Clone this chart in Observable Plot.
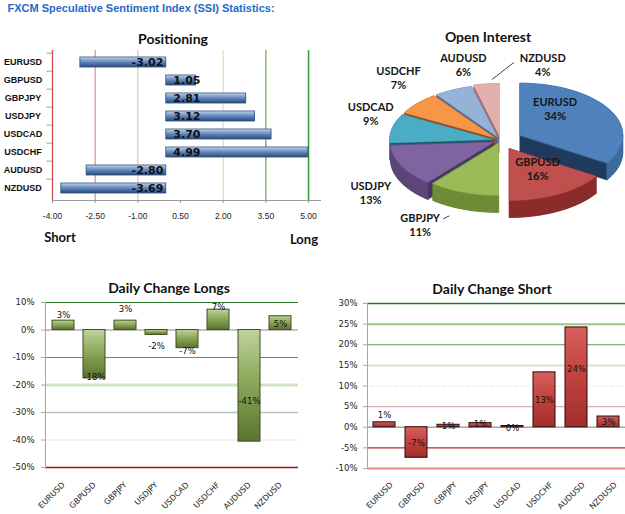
<!DOCTYPE html>
<html><head><meta charset="utf-8">
<script src="https://cdn.jsdelivr.net/npm/d3@7"></script>
<script src="https://cdn.jsdelivr.net/npm/@observablehq/plot@0.6"></script>
<style>
html,body{margin:0;padding:0;background:#fff;}
#root{position:relative;width:625px;height:514px;overflow:hidden;background:#fff;}
.panel{position:absolute;}
.panel svg{overflow:visible;}
.lbl{position:absolute;transform:translate(-50%,-50%);white-space:nowrap;}
</style></head><body><div id="root"></div>
<script>
// ---------- data ----------
const pairs = ["EURUSD","GBPUSD","GBPJPY","USDJPY","USDCAD","USDCHF","AUDUSD","NZDUSD"];
const positioning = [-3.02, 1.05, 2.81, 3.12, 3.70, 4.99, -2.80, -3.69];
const positioningTicks = [-4, -2.5, -1, 0.5, 2, 3.5, 5];
const openInterest = [34, 16, 11, 13, 9, 7, 6, 4];
const changeLongs = [3.4, -17.6, 3.4, -1.8, -6.6, 7.4, -40.6, 5.0];
const changeShort = [1.2, -7.4, 0.6, 1.0, 0.3, 13.3, 24.2, 2.6];
const longsTicks = [10, 0, -10, -20, -30, -40, -50];
const shortTicks = [30, 25, 20, 15, 10, 5, 0, -5, -10];

// ---------- layout / style ----------
const posGridStyle = [
  {stroke:"#D64B4B", w:1.3}, {stroke:"#E39393", w:1.3}, {stroke:"#DABDBD", w:1.1},
  null, {stroke:"#D9E6BA", w:1.3}, {stroke:"#78AE58", w:1.3}, {stroke:"#35983A", w:1.5}
];
const longsGridStyle = [
  {stroke:"#2B7A2B", w:1.2}, {stroke:"#B0B0B0", w:1.3}, {stroke:"#5E9B3E", w:1.1},
  {stroke:"#CFE3C0", w:3}, {stroke:"#B5C6B5", w:1.3}, {stroke:"#ECECEC", w:1.5}, {stroke:"#A01515", w:1.4}
];
const shortGridStyle = [
  {stroke:"#1E7B1E", w:1.3}, {stroke:"#9CC585", w:2}, {stroke:"#6A9E4C", w:1.1},
  {stroke:"#D3E7CB", w:2}, {stroke:"#D0D0D0", w:1, dash:"1,2"}, {stroke:"#D5B5B5", w:1.1},
  {stroke:"#A6A6A6", w:1.3}, {stroke:"#B8272A", w:1.3}, {stroke:"#E88A8A", w:2}
];
const longsLabelAt = [5.3, -17.3, 7.5, -5.8, -7.6, 8.4, -25.8, 2.1];
const shortLabelAt = [3.0, -4.0, 0.15, 0.7, -0.2, 6.6, 14.1, 1.2];
const pieColors = [
  {top:"#4F81BD", wall:"#3F6A9E", cut:"#1F3A5C"},
  {top:"#C0504D", wall:"#8A2C2A", cut:"#6E1F1E"},
  {top:"#9BBB59", wall:"#6E8B35", cut:"#566E28"},
  {top:"#8064A2", wall:"#5C4679", cut:"#47365F"},
  {top:"#4BACC6", wall:"#2F7C90", cut:"#1F5565"},
  {top:"#F79646", wall:"#B0601E", cut:"#8A4712"},
  {top:"#95B3D7", wall:"#6A86AA", cut:"#4F6687"},
  {top:"#E3AFAE", wall:"#B98584", cut:"#9C6B6A"}
];
const pieExplode = [22, 18, 6, 8, 8, 8, 8, 10];
const pieLabelPos = [[0.53,-0.62],[0.36,0.54],[-0.78,1.62],[-1.26,1.0],[-1.26,-0.52],[-0.99,-1.21],[-0.36,-1.46],[0.41,-1.46]];

const ns = "http://www.w3.org/2000/svg";
function addGradient(svg, id, stops) {
  let defs = svg.querySelector("defs");
  if (!defs) { defs = document.createElementNS(ns, "defs"); svg.insertBefore(defs, svg.firstChild); }
  const g = document.createElementNS(ns, "linearGradient");
  g.setAttribute("id", id); g.setAttribute("x1","0"); g.setAttribute("y1","0"); g.setAttribute("x2","0"); g.setAttribute("y2","1");
  for (const [o,c] of stops) { const s = document.createElementNS(ns,"stop"); s.setAttribute("offset", o); s.setAttribute("stop-color", c); g.appendChild(s); }
  defs.appendChild(g);
}
const root = document.getElementById("root");
function place(el, left, top) { const d = document.createElement("div"); d.className="panel"; d.style.left=left+"px"; d.style.top=top+"px"; d.appendChild(el); root.appendChild(d); }
function label(text, x, y, css) { const d = document.createElement("div"); d.className="lbl"; d.textContent=text; d.style.cssText = css; d.style.left=x+"px"; d.style.top=y+"px"; root.appendChild(d); }

// ---------- Positioning ----------
const posData = pairs.map((p,i)=>({pair:p, value:positioning[i]}));
const posPlot = Plot.plot({
  width: 320, height: 250, marginLeft: 52, marginRight: 0, marginTop: 50, marginBottom: 50,
  x: {domain: [-4, 5.42], axis: null, label: null},
  y: {domain: pairs, paddingInner: 0.42, paddingOuter: 0.21, axis: null, label: null},
  style: {fontFamily: "Liberation Sans, Arial, sans-serif", background: "transparent", color: "#222"},
  marks: [
    ...positioningTicks.map((t,i)=> posGridStyle[i] ? Plot.ruleX([t], {stroke: posGridStyle[i].stroke, strokeWidth: posGridStyle[i].w}) : null).filter(Boolean),
    Plot.ruleY(pairs, {y: d=>d, x1: -4.2, x2: -4, dy: -9.375, stroke: "#A0A0A0"}),
    Plot.frame({anchor: "bottom", stroke: "#9A9A9A"}),
    Plot.axisX(positioningTicks, {label: null, tickFormat: d=>d.toFixed(2), tickSize: 3, tickPadding: 9, fontSize: 8.5, stroke: "#9A9A9A", fill: "#222"}),
    Plot.axisY({label: null, tickSize: 0, tickPadding: 29.5, textAnchor: "middle", fontWeight: "bold", fontSize: 9, fill: "#111"}),
    Plot.barX(posData, {y: "pair", x1: 0, x2: "value", fill: "url(#gBlue)", stroke: "#2C4B77", strokeWidth: 0.8}),
    Plot.text(posData.filter(d=>d.value<0), {y: "pair", x: 0, text: d=>d.value.toFixed(2), textAnchor: "end", dx: -3, fontWeight: "bold", fontSize: 11, fontFamily: "DejaVu Sans", fill: "#111"}),
    Plot.text(posData.filter(d=>d.value>=0), {y: "pair", x: 0, text: d=>d.value.toFixed(2), textAnchor: "start", dx: 7, fontWeight: "bold", fontSize: 11, fontFamily: "DejaVu Sans", fill: "#111"})
  ]
});
addGradient(posPlot, "gBlue", [["0","#DDE7F3"],["0.18","#9AB6DC"],["0.55","#5C81B6"],["1","#2B4A77"]]);
place(posPlot, 0, 0);

// ---------- Open Interest (3D pie) ----------
const cx = 500, cy = 140, rx = 103, ry = 52, depth = 17;
const total = d3.sum(openInterest);
let acc = 0;
const slices = openInterest.map((v,i)=>{
  const a0 = acc/total*2*Math.PI; acc += v; const a1 = acc/total*2*Math.PI;
  const mid = (a0+a1)/2, e = pieExplode[i];
  const ox = e*Math.sin(mid), oy = -e*Math.cos(mid)*ry/rx;
  const px = a => cx + ox + rx*Math.sin(a), py = a => cy + oy - ry*Math.cos(a);
  const n = Math.max(4, Math.ceil((a1-a0)/(Math.PI/90)));
  const arc = d3.range(n+1).map(k=>a0+(a1-a0)*k/n);
  const top = [{x:cx+ox, y:cy+oy}, ...arc.map(a=>({x:px(a), y:py(a)}))];
  const hull = d3.polygonHull(top.flatMap(p=>[[p.x,p.y],[p.x,p.y+depth]])).map(([x,y])=>({x,y}));
  const w0 = Math.max(a0, Math.PI/2), w1 = Math.min(a1, 3*Math.PI/2);
  let wall = null;
  if (w1 > w0) {
    const m = Math.max(3, Math.ceil((w1-w0)/(Math.PI/90)));
    const wa = d3.range(m+1).map(k=>w0+(w1-w0)*k/m);
    wall = [...wa.map(a=>({x:px(a), y:py(a)})), ...wa.slice().reverse().map(a=>({x:px(a), y:py(a)+depth}))];
  }
  const key = cy + oy - 0.5*ry*Math.cos(mid);
  const outer = {x: px(mid), y: py(mid)};
  return {i, name: pairs[i], v, top, hull, wall, key, outer, mid};
});
const order = slices.slice().sort((a,b)=>a.key-b.key);
const pieMarks = [];
for (const s of order) {
  pieMarks.push(Plot.line(s.hull, {x:"x", y:"y", curve:"linear-closed", fill: pieColors[s.i].cut, stroke: pieColors[s.i].cut, strokeWidth: 0.5}));
  if (s.wall) pieMarks.push(Plot.line(s.wall, {x:"x", y:"y", curve:"linear-closed", fill: pieColors[s.i].wall, stroke: pieColors[s.i].wall, strokeWidth: 0.5}));
}
for (const s of order) {
  pieMarks.push(Plot.line(s.top, {x:"x", y:"y", curve:"linear-closed", fill: pieColors[s.i].top, stroke: pieColors[s.i].top, strokeWidth: 0.5}));
}
const pieLabels = slices.map(s=>({x: cx + pieLabelPos[s.i][0]*rx, y: cy + pieLabelPos[s.i][1]*ry, text: s.name + "\n" + s.v + "%"}));
const leaders = [
  {i: 2, sx: 23, sy: -6, t: 0.3, wallBottom: true},
  {i: 7, sx: -29, sy: -2, t: 0.8, wallBottom: false}
].map(l=>{
  const L = pieLabels[l.i], s = slices[l.i];
  const x1 = L.x + l.sx, y1 = L.y + l.sy;
  const tx = s.outer.x, ty = s.outer.y + (l.wallBottom ? depth : 0);
  return {x1, y1, x2: x1 + l.t*(tx-x1), y2: y1 + l.t*(ty-y1)};
});
const piePlot = Plot.plot({
  width: 305, height: 250, margin: 0,
  x: {domain: [320, 625], range: [0, 305], axis: null},
  y: {domain: [0, 250], range: [0, 250], axis: null},
  style: {background: "transparent"},
  marks: [
    ...pieMarks,
    Plot.link(leaders, {x1:"x1", y1:"y1", x2:"x2", y2:"y2", stroke: "#404040", strokeWidth: 1}),
    Plot.text(pieLabels, {x:"x", y:"y", text:"text", fontFamily: "Lato, sans-serif", fontWeight: "bold", fontSize: 11, lineHeight: 1.3, fill: "#151515"})
  ]
});
place(piePlot, 320, 0);

// ---------- Daily Change Longs ----------
const longsData = pairs.map((p,i)=>({pair:p, value:changeLongs[i], at: longsLabelAt[i]}));
const longsPlot = Plot.plot({
  width: 315, height: 244, marginLeft: 45, marginRight: 17, marginTop: 32, marginBottom: 47,
  x: {domain: pairs, paddingInner: 0.3, paddingOuter: 0.15, axis: null, label: null},
  y: {domain: [-50, 10], axis: null, label: null},
  style: {fontFamily: "DejaVu Sans, sans-serif", background: "transparent", color: "#222"},
  marks: [
    ...longsTicks.map((t,i)=>Plot.ruleY([t], {stroke: longsGridStyle[i].stroke, strokeWidth: longsGridStyle[i].w})),
    Plot.frame({anchor: "left", stroke: "#A6A6A6"}),
    Plot.axisY(longsTicks, {label: null, tickFormat: d=>d+"%", tickSize: 4, tickPadding: 7, fontSize: 8.5, stroke: "#A6A6A6", fill: "#222"}),
    Plot.barY(longsData, {x: "pair", y1: 0, y2: "value", fill: "url(#gGreen)", stroke: "#3F4F20", strokeWidth: 1}),
    Plot.text(longsData, {x: "pair", y: "at", text: d=>Math.round(d.value)+"%", fontSize: 8.5, fill: "#111"}),
    Plot.text(pairs, {x: d=>d, y: -50, text: d=>d, rotate: -45, textAnchor: "end", dx: 0, dy: 16, fontSize: 8, fill: "#222"})
  ]
});
addGradient(longsPlot, "gGreen", [["0","#BFD29C"],["0.45","#8EAA5C"],["1","#5A7330"]]);
place(longsPlot, 0, 270);

// ---------- Daily Change Short ----------
const shortData = pairs.map((p,i)=>({pair:p, value:changeShort[i], at: shortLabelAt[i]}));
const shortPlot = Plot.plot({
  width: 310, height: 244, marginLeft: 52, marginRight: 0, marginTop: 33, marginBottom: 46,
  x: {domain: pairs, paddingInner: 0.3, paddingOuter: 0.15, axis: null, label: null},
  y: {domain: [-10, 30], axis: null, label: null},
  style: {fontFamily: "DejaVu Sans, sans-serif", background: "transparent", color: "#222"},
  marks: [
    ...shortTicks.map((t,i)=>Plot.ruleY([t], {stroke: shortGridStyle[i].stroke, strokeWidth: shortGridStyle[i].w, strokeDasharray: shortGridStyle[i].dash})),
    Plot.frame({anchor: "left", stroke: "#A6A6A6"}),
    Plot.axisY(shortTicks, {label: null, tickFormat: d=>d+"%", tickSize: 4, tickPadding: 6, fontSize: 8.5, stroke: "#A6A6A6", fill: "#222"}),
    Plot.barY(shortData, {x: "pair", y1: 0, y2: "value", fill: "url(#gRed)", stroke: "#2A0A0A", strokeWidth: 1}),
    Plot.text(shortData, {x: "pair", y: "at", text: d=>Math.round(d.value)+"%", fontSize: 8.5, fill: "#111"}),
    Plot.text(pairs, {x: d=>d, y: -10, text: d=>d, rotate: -45, textAnchor: "end", dx: 7, dy: 15, fontSize: 8, fill: "#222"})
  ]
});
addGradient(shortPlot, "gRed", [["0","#D8605C"],["0.5","#C0423F"],["1","#A02E2B"]]);
place(shortPlot, 315, 270);

// ---------- text ----------
label("FXCM Speculative Sentiment Index (SSI) Statistics:", 141, 8, "font-family:'Liberation Sans',Arial,sans-serif;font-weight:bold;font-size:11px;color:#1F6BC6;");
const tcss = "font-family:Lato,'Open Sans',sans-serif;font-weight:bold;font-size:14px;color:#111;";
label("Positioning", 173, 38, tcss);
label("Open Interest", 488, 36, tcss);
label("Daily Change Longs", 169, 287, tcss);
label("Daily Change Short", 492, 288, tcss);
const scss = "font-family:Lato,'Open Sans',sans-serif;font-weight:bold;font-size:13px;color:#111;";
label("Short", 60, 237, scss);
label("Long", 304, 239, scss);
</script></body></html>
